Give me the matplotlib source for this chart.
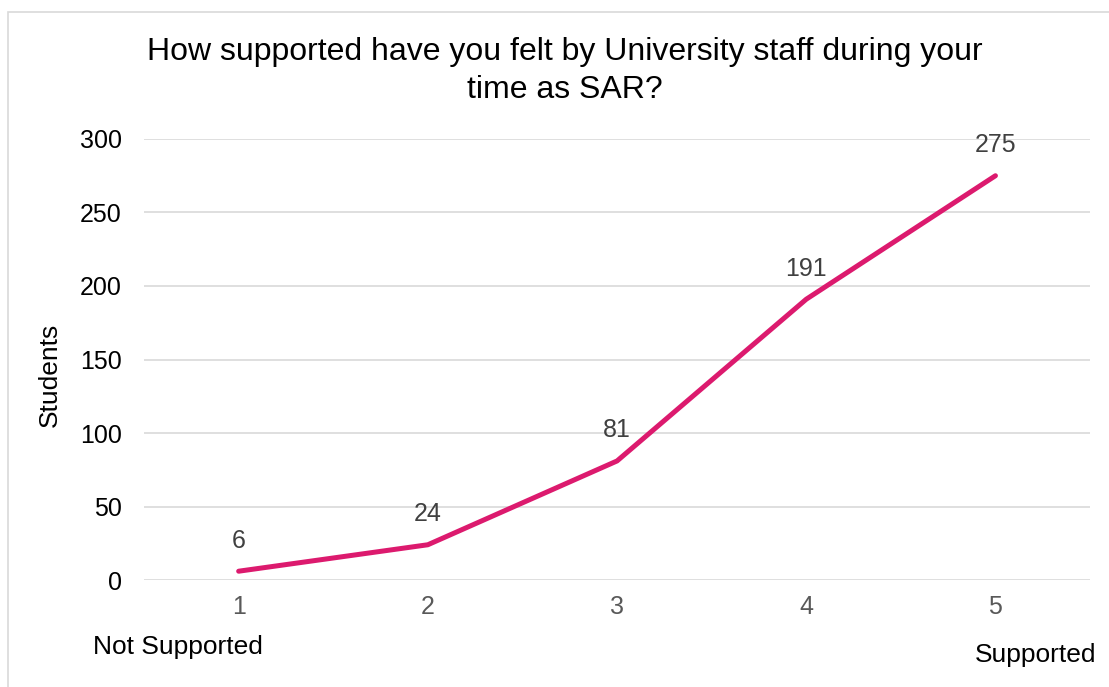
import matplotlib.pyplot as plt
from matplotlib.patches import Rectangle

plt.rcParams['font.family'] = ['Liberation Sans', 'DejaVu Sans']

# Survey responses on a 1-5 scale
ratings = [1, 2, 3, 4, 5]
students = [6, 24, 81, 191, 275]
y_ticks = [0, 50, 100, 150, 200, 250, 300]

line_color = '#DC1A6E'
grid_color = '#D9D9D9'

fig = plt.figure(figsize=(11.09, 6.87), dpi=100)
ax = fig.add_axes([0.1299, 0.1557, 0.853, 0.642])

# light frame round the whole chart
fig.patches.append(Rectangle((8 / 1109, -0.1), 1.2, 1.1 - 12 / 687,
                             transform=fig.transFigure, fill=False,
                             edgecolor='#D9D9D9', linewidth=1.2))

x = list(range(len(ratings)))
ax.plot(x, students, color=line_color, linewidth=3.6, solid_capstyle='round',
        solid_joinstyle='round', zorder=3)

for xi, v in zip(x, students):
    ax.annotate(str(v), (xi, v), xytext=(0, 22), textcoords='offset points',
                ha='center', va='center', fontsize=18, color='#404040')

ax.set_xlim(-0.5, len(ratings) - 0.5)
ax.set_ylim(0, 300)
ax.set_xticks(x)
ax.set_xticklabels([str(r) for r in ratings], fontsize=18, color='#595959')
ax.set_yticks(y_ticks)
ax.set_yticklabels([str(t) for t in y_ticks], fontsize=18, color='#000000')
ax.tick_params(axis='both', length=0)
ax.tick_params(axis='x', pad=11)
ax.tick_params(axis='y', pad=16)
ax.grid(axis='y', color=grid_color, linewidth=1.2)
ax.set_axisbelow(True)
for s in ax.spines.values():
    s.set_visible(False)

ax.set_ylabel('Students', fontsize=19)
ax.yaxis.set_label_coords(-0.087, 0.465)

fig.text(565 / 1109, 1 - 71 / 687,
         'How supported have you felt by University staff during your\ntime as SAR?',
         ha='center', va='center', fontsize=23, linespacing=1.32)

fig.text(93 / 1109, 1 - 647 / 687, 'Not Supported', ha='left', va='center', fontsize=19)
fig.text(1096 / 1109, 1 - 655 / 687, 'Supported', ha='right', va='center', fontsize=19)

fig.savefig('out.png', dpi=100)
